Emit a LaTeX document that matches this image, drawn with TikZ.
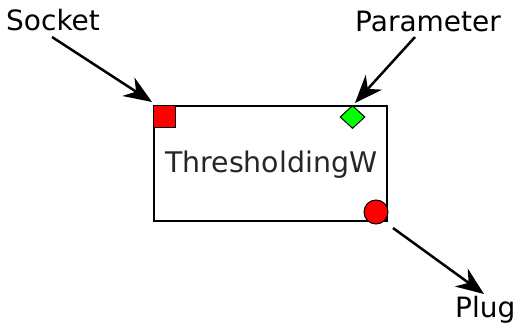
\documentclass[tikz,border=0pt]{standalone}
\usepackage{fontspec}
\setmainfont{DejaVu Sans}
\usetikzlibrary{arrows.meta,shapes.geometric}
\tikzset{
  label/.style={inner sep=0pt, anchor=base west, font=\fontsize{28}{32}\selectfont},
  block/.style={draw=black, line width=2pt, fill=white, inner sep=0pt},
  socketport/.style={draw=black, line width=1pt, fill=red, inner sep=0pt, minimum size=22pt, anchor=north west},
  paramport/.style={draw=black, line width=1pt, fill=green, diamond, inner sep=0pt, minimum width=25pt, minimum height=23pt},
  plugport/.style={draw=black, line width=1pt, fill=red, circle, inner sep=0pt, minimum size=24pt},
  pointer/.style={line width=2.5pt, -{Stealth[length=28pt, width=22pt, inset=9pt]}}
}
\begin{document}
\begin{tikzpicture}[x=1pt, y=-1pt]
  \useasboundingbox (0,0) rectangle (518,324);

  % the block itself
  \node[block, minimum width=233pt, minimum height=115pt, anchor=north west] (blk) at (153,105) {};
  \node[inner sep=0pt, anchor=base west, font=\fontsize{28.4}{32}\selectfont, text=black!85] (title) at (165,172) {ThresholdingW};

  % ports
  \node[socketport] (sock) at (153,105) {};
  \node[paramport] (param) at (352.5,117) {};
  \node[plugport] (plug) at (376,212) {};

  % captions
  \node[label] (socklbl) at (6,30) {Socket};
  \node[label] (paramlbl) at (355,31) {Parameter};
  \node[label] (pluglbl) at (455,317) {Plug};

  % arrow end points
  \coordinate (s0) at (52,37);
  \coordinate (s1) at (152,102);
  \coordinate (p0) at (415,37);
  \coordinate (p1) at (355,103);
  \coordinate (g0) at (393,228);
  \coordinate (g1) at (484,294);

  \draw[pointer] (s0) -- (s1);
  \draw[pointer] (p0) -- (p1);
  \draw[pointer] (g0) -- (g1);
\end{tikzpicture}
\end{document}
